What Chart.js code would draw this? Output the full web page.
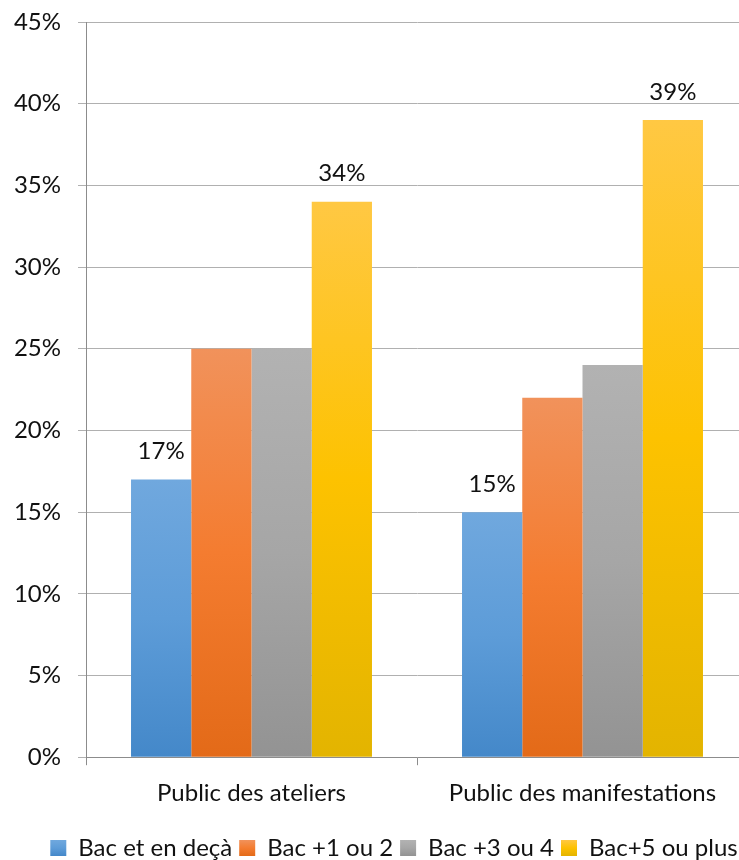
<!DOCTYPE html>
<html><head><meta charset="utf-8">
<script src="https://cdn.jsdelivr.net/npm/chart.js@4.4.1/dist/chart.umd.min.js"></script>
<style>html,body{margin:0;padding:0;overflow:hidden;background:#fff}#wrap{width:760px;height:860px}</style>
</head><body><div id="wrap"><canvas id="c" width="760" height="860" style="width:760px;height:860px"></canvas></div>
<script>
const categories = ['Public des ateliers', 'Public des manifestations'];
const seriesNames = ['Bac et en deçà', 'Bac +1 ou 2', 'Bac +3 ou 4', 'Bac+5 ou plus'];
const bacEtEnDeca = [17, 15];
const bac1ou2 = [25, 22];
const bac3ou4 = [25, 24];
const bac5ouPlus = [34, 39];
const yTickValues = [0, 5, 10, 15, 20, 25, 30, 35, 40, 45];
const labelledSeries = [0, 3];

const gradStops = [
  ['#70a8de', '#5d9cd8', '#4488c9'],
  ['#f1925b', '#f47c30', '#e36a18'],
  ['#b2b2b2', '#a6a6a6', '#939393'],
  ['#ffc843', '#fdc200', '#e3b400']
];
const FONT = 'Lato, "Open Sans", sans-serif';
const FS = 24;
const LEG_PAD = 7;
const LEGEND_SHIFT_X = 20;
const LEGEND_SHIFT_Y = 7;

function makeGrad(ctx, stops, top, bottom) {
  const g = ctx.createLinearGradient(0, top, 0, bottom);
  g.addColorStop(0, stops[0]);
  g.addColorStop(0.5, stops[1]);
  g.addColorStop(1, stops[2]);
  return g;
}

function barColor(i) {
  return function (c) {
    const chart = c.chart;
    if (!chart.chartArea || c.type !== 'data') return gradStops[i][1];
    const ys = chart.scales.y;
    const top = ys.getPixelForValue(c.raw);
    const bottom = ys.getPixelForValue(0);
    return makeGrad(chart.ctx, gradStops[i], top, bottom);
  };
}

const allSeries = [bacEtEnDeca, bac1ou2, bac3ou4, bac5ouPlus];

const legendShift = {
  id: 'legendShift',
  afterLayout(chart) {
    const lg = chart.legend;
    if (!lg) return;
    lg.left += LEGEND_SHIFT_X; lg.right += LEGEND_SHIFT_X;
    lg.top += LEGEND_SHIFT_Y; lg.bottom += LEGEND_SHIFT_Y;
  }
};

const valueLabels = {
  id: 'valueLabels',
  afterDatasetsDraw(chart) {
    const ctx = chart.ctx;
    ctx.save();
    ctx.font = FS + 'px ' + FONT;
    ctx.fillStyle = '#111';
    ctx.textAlign = 'center';
    ctx.textBaseline = 'middle';
    labelledSeries.forEach(di => {
      const meta = chart.getDatasetMeta(di);
      meta.data.forEach((bar, j) => {
        ctx.fillText(chart.data.datasets[di].data[j] + '%', bar.x, bar.y - 28);
      });
    });
    ctx.restore();
  }
};

new Chart(document.getElementById('c'), {
  type: 'bar',
  data: {
    labels: categories,
    datasets: allSeries.map((d, i) => ({
      label: seriesNames[i],
      data: d,
      backgroundColor: barColor(i),
      borderWidth: 0,
      categoryPercentage: 0.728,
      barPercentage: 1
    }))
  },
  options: {
    responsive: false,
    animation: false,
    devicePixelRatio: 1,
    layout: { padding: { top: 22, right: 12, left: 0, bottom: -3 } },
    scales: {
      x: {
        grid: { display: true, drawOnChartArea: false, drawTicks: true, tickLength: 8, color: '#8c8c8c', offset: true },
        border: { display: true, color: '#8c8c8c', width: 1 },
        ticks: { font: { family: FONT, size: FS }, color: '#111', padding: 14, maxRotation: 0 }
      },
      y: {
        min: 0, max: 45,
        afterBuildTicks(scale) { scale.ticks = yTickValues.map(v => ({ value: v })); },
        afterFit(scale) { scale.width = 86; scale.paddingTop = 0; scale.paddingBottom = 0; },
        grid: { color: '#b0b0b0', lineWidth: 1, tickLength: 8, drawTicks: true },
        border: { display: true, color: '#8c8c8c', width: 1 },
        ticks: { font: { family: FONT, size: FS }, color: '#111', padding: 17, callback: v => v + '%' }
      }
    },
    plugins: {
      legend: {
        position: 'bottom',
        labels: {
          boxWidth: 16, boxHeight: 16, padding: LEG_PAD,
          font: { family: FONT, size: FS }, color: '#111',
          generateLabels(chart) {
            const items = Chart.defaults.plugins.legend.labels.generateLabels(chart);
            const lg = chart.legend;
            items.forEach((it, i) => {
              if (lg && lg.top !== undefined) {
                const t = lg.top + LEG_PAD + (FS - 16) / 2;
                it.fillStyle = makeGrad(chart.ctx, gradStops[i], t, t + 16);
              } else {
                it.fillStyle = gradStops[i][1];
              }
              it.strokeStyle = 'rgba(0,0,0,0)';
              it.lineWidth = 0;
            });
            return items;
          }
        }
      },
      tooltip: { enabled: false }
    }
  },
  plugins: [legendShift, valueLabels]
});
</script>
</body></html>
